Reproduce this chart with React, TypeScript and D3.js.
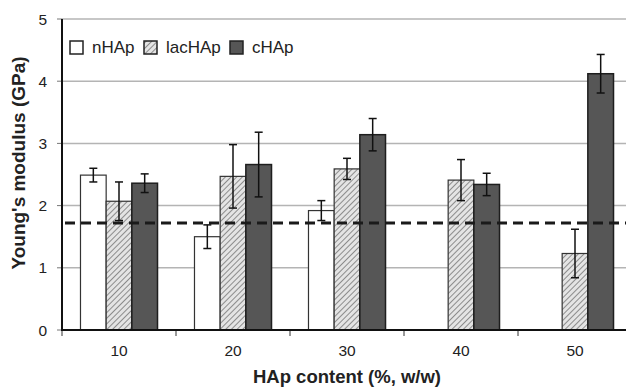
import React from "react";
import * as d3 from "d3";

// HAp content groups and measured Young's modulus (GPa) with standard deviations
const categories = ["10", "20", "30", "40", "50"];
const seriesNames = ["nHAp", "lacHAp", "cHAp"];
const nHApValues: (number | null)[] = [2.49, 1.5, 1.92, null, null];
const nHApErrors: (number | null)[] = [0.11, 0.19, 0.16, null, null];
const lacHApValues: (number | null)[] = [2.07, 2.47, 2.59, 2.41, 1.23];
const lacHApErrors: (number | null)[] = [0.31, 0.51, 0.17, 0.33, 0.39];
const cHApValues: (number | null)[] = [2.36, 2.66, 3.14, 2.34, 4.12];
const cHApErrors: (number | null)[] = [0.15, 0.52, 0.26, 0.18, 0.31];
const yTicks = [0, 1, 2, 3, 4, 5];
const referenceLevel = 1.72;

const W = 626;
const H = 388;
const left = 62;
const top = 19;
const bottom = 330;
const right = 632;

const FONT = "'Liberation Sans', Arial, Helvetica, sans-serif";

const valuesBySeries: Record<string, (number | null)[]> = {
  nHAp: nHApValues,
  lacHAp: lacHApValues,
  cHAp: cHApValues,
};
const errorsBySeries: Record<string, (number | null)[]> = {
  nHAp: nHApErrors,
  lacHAp: lacHApErrors,
  cHAp: cHApErrors,
};

const fills: Record<string, string> = {
  nHAp: "#ffffff",
  lacHAp: "url(#hatch)",
  cHAp: "#565656",
};
const strokes: Record<string, string> = {
  nHAp: "#333",
  lacHAp: "#333",
  cHAp: "#1e1e1e",
};

export default function App() {
  const x0 = d3.scaleBand<string>().domain(categories).range([left, right]).paddingInner(0).paddingOuter(0);
  const x1 = d3
    .scaleBand<string>()
    .domain(seriesNames)
    .range([0, x0.bandwidth()])
    .paddingInner(0)
    .paddingOuter(0.72);
  const y = d3.scaleLinear().domain([0, 5]).range([bottom, top]);

  const tickXs = d3.range(categories.length + 1).map((i) => left + i * x0.step());

  return (
    <svg
      width={W}
      height={H}
      viewBox={`0 0 ${W} ${H}`}
      style={{ position: "absolute", left: 0, top: 0, background: "#fff" }}
    >
      <defs>
        <pattern id="hatch" width={4} height={4} patternUnits="userSpaceOnUse" patternTransform="rotate(45)">
          <rect width={4} height={4} fill="#e4e4e4" />
          <line x1={0} y1={0} x2={0} y2={4} stroke="#8c8c8c" strokeWidth={2} />
        </pattern>
      </defs>

      {/* horizontal gridlines */}
      {yTicks
        .filter((t) => t > 0)
        .map((t) => (
          <line key={`g${t}`} x1={left} x2={W} y1={y(t)} y2={y(t)} stroke="#b4b4b4" strokeWidth={1.5} />
        ))}

      {/* bars */}
      {categories.map((c, ci) =>
        seriesNames.map((s) => {
          const v = valuesBySeries[s][ci];
          if (v == null) return null;
          const bx = (x0(c) as number) + (x1(s) as number);
          return (
            <rect
              key={`${c}-${s}`}
              x={bx}
              y={y(v)}
              width={x1.bandwidth()}
              height={bottom - y(v)}
              fill={fills[s]}
              stroke={strokes[s]}
              strokeWidth={s === "cHAp" ? 1.5 : 1.2}
            />
          );
        })
      )}

      {/* reference level */}
      <line
        x1={left + 3}
        x2={W}
        y1={y(referenceLevel)}
        y2={y(referenceLevel)}
        stroke="#1a1a1a"
        strokeWidth={3}
        strokeDasharray="10,6"
      />

      {/* error bars */}
      {categories.map((c, ci) =>
        seriesNames.map((s) => {
          const v = valuesBySeries[s][ci];
          const e = errorsBySeries[s][ci];
          if (v == null || e == null) return null;
          const cx = (x0(c) as number) + (x1(s) as number) + x1.bandwidth() / 2;
          const y1 = y(v + e);
          const y2 = y(v - e);
          return (
            <g key={`e-${c}-${s}`} stroke="#111" strokeWidth={1.5}>
              <line x1={cx} x2={cx} y1={y1} y2={y2} />
              <line x1={cx - 4} x2={cx + 4} y1={y1} y2={y1} />
              <line x1={cx - 4} x2={cx + 4} y1={y2} y2={y2} />
            </g>
          );
        })
      )}

      {/* y axis */}
      {yTicks.map((t) => (
        <g key={`yt${t}`}>
          <line x1={left - 5} x2={left} y1={y(t)} y2={y(t)} stroke="#777" strokeWidth={1} />
          <text
            x={left - 15}
            y={y(t)}
            dy="0.36em"
            textAnchor="end"
            fontFamily={FONT}
            fontSize={15.5}
            fill="#222"
          >
            {t}
          </text>
        </g>
      ))}
      <line x1={left} x2={left} y1={top} y2={bottom + 1} stroke="#111" strokeWidth={2} />

      {/* x axis */}
      {tickXs.map((tx, i) => (
        <line key={`xt${i}`} x1={tx} x2={tx} y1={bottom} y2={bottom + 6} stroke="#333" strokeWidth={1} />
      ))}
      <line x1={left - 1} x2={W} y1={bottom} y2={bottom} stroke="#111" strokeWidth={2} />
      {categories.map((c) => (
        <text
          key={`xl${c}`}
          x={(x0(c) as number) + x0.bandwidth() / 2}
          y={356}
          textAnchor="middle"
          fontFamily={FONT}
          fontSize={15.5}
          fill="#222"
        >
          {c}
        </text>
      ))}

      {/* axis titles */}
      <text
        x={(left + right) / 2}
        y={383}
        textAnchor="middle"
        fontFamily={FONT}
        fontSize={18.5}
        fontWeight="bold"
        fill="#222"
      >
        HAp content (%, w/w)
      </text>
      <text
        transform="translate(25,163) rotate(-90)"
        textAnchor="middle"
        fontFamily={FONT}
        fontSize={19}
        fontWeight="bold"
        fill="#222"
      >
        Young's modulus (GPa)
      </text>

      {/* legend */}
      {seriesNames.map((s, i) => {
        const lx = [70, 144, 230][i];
        return (
          <g key={`lg${s}`}>
            <rect x={lx} y={41} width={13} height={13} fill={fills[s]} stroke="#222" strokeWidth={1.5} />
            <text x={lx + 22} y={53} fontFamily={FONT} fontSize={17} fill="#222">
              {s}
            </text>
          </g>
        );
      })}
    </svg>
  );
}
